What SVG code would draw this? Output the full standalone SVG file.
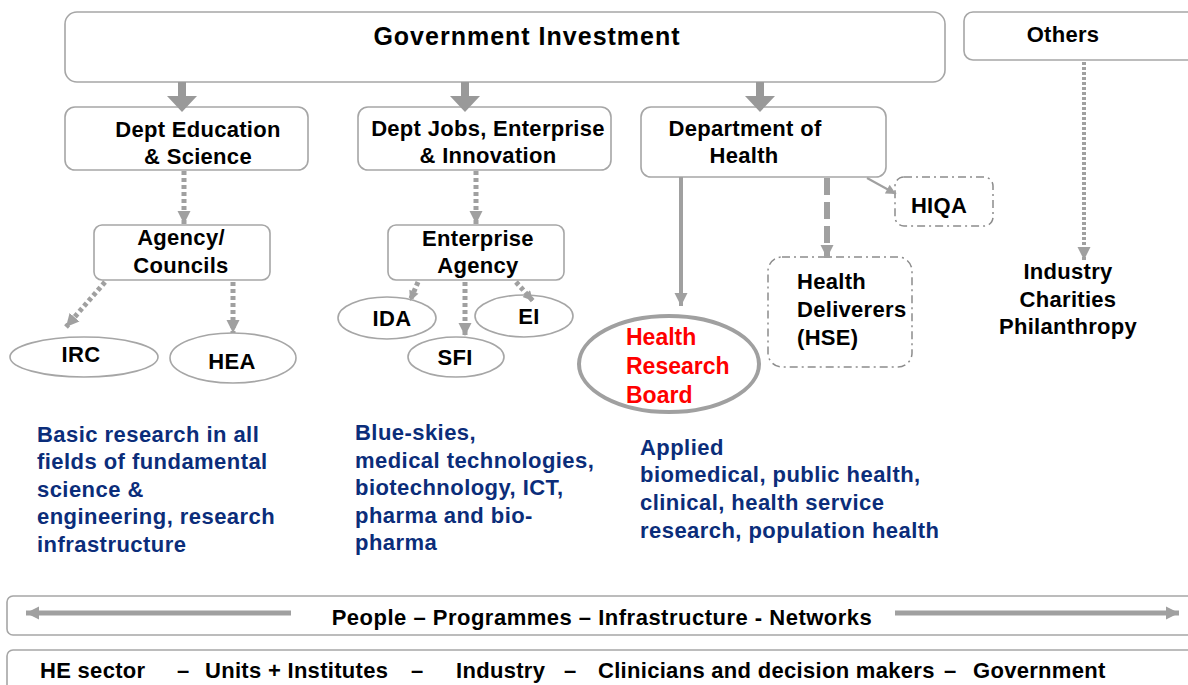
<svg xmlns="http://www.w3.org/2000/svg" width="1188" height="685" viewBox="0 0 1188 685">
<style>
.box{fill:#fff;stroke:#a6a6a6;stroke-width:1.6}
.ell{fill:#fff;stroke:#a6a6a6;stroke-width:1.6}
.dd{fill:#fff;stroke:#8c8c8c;stroke-width:1.5;stroke-dasharray:8 4 2 4}
.t{font-family:"Liberation Sans",Arial,sans-serif;font-weight:bold;font-size:22px;fill:#000;letter-spacing:0.3px}
.c{text-anchor:middle}
.blue{font-family:"Liberation Sans",Arial,sans-serif;font-weight:bold;font-size:22px;fill:#0b2d7a;letter-spacing:0.45px}
.red{font-family:"Liberation Sans",Arial,sans-serif;font-weight:bold;font-size:23px;fill:#ff0000}
.dot{fill:none;stroke:#a0a0a0;stroke-width:5;stroke-dasharray:4 3}
.dot2{fill:none;stroke:#a0a0a0;stroke-width:4;stroke-dasharray:3 2}
.solid{fill:none;stroke:#a0a0a0;stroke-width:4}
.dash{fill:none;stroke:#a0a0a0;stroke-width:6;stroke-dasharray:17 7}
.thin{fill:none;stroke:#a0a0a0;stroke-width:2}
.big{fill:#999}
</style>
<defs>
<marker id="ah" viewBox="0 0 10 10" refX="10" refY="5" markerUnits="userSpaceOnUse" markerWidth="13" markerHeight="14" orient="auto"><path d="M0,0 L10,5 L0,10 z" fill="#a0a0a0"/></marker>
<marker id="ahs" viewBox="0 0 10 10" refX="10" refY="5" markerUnits="userSpaceOnUse" markerWidth="11" markerHeight="10" orient="auto"><path d="M0,0 L10,5 L0,10 z" fill="#a0a0a0"/></marker>
</defs>

<g id="government-investment">
<rect class="box" x="65" y="12" width="880" height="70" rx="12"/>
<text class="t c" x="527" y="45" style="font-size:25px;letter-spacing:1px">Government Investment</text>
</g>
<g id="others">
<rect class="box" x="964" y="12" width="240" height="48" rx="9"/>
<text class="t c" x="1063" y="42">Others</text>
</g>
<g id="dept-education">
<rect class="box" x="65" y="107" width="243" height="63" rx="10"/>
<text class="t c" x="198" y="137">Dept Education</text>
<text class="t c" x="198" y="164">&amp; Science</text>
</g>
<g id="dept-jobs">
<rect class="box" x="358" y="107" width="253" height="63" rx="10"/>
<text class="t c" x="488" y="136">Dept Jobs, Enterprise</text>
<text class="t c" x="488" y="163">&amp; Innovation</text>
</g>
<g id="dept-health">
<rect class="box" x="641" y="107" width="245" height="70" rx="10"/>
<text class="t c" x="745" y="136">Department of</text>
<text class="t c" x="744" y="163">Health</text>
</g>
<g id="agency-councils">
<rect class="box" x="94" y="225" width="176" height="55" rx="8"/>
<text class="t c" x="181" y="245">Agency/</text>
<text class="t c" x="181" y="273">Councils</text>
</g>
<g id="enterprise-agency">
<rect class="box" x="388" y="225" width="176" height="55" rx="8"/>
<text class="t c" x="478" y="246">Enterprise</text>
<text class="t c" x="478" y="273">Agency</text>
</g>
<g id="irc">
<ellipse class="ell" cx="84" cy="357" rx="74" ry="20"/>
<text class="t c" x="81" y="362">IRC</text>
</g>
<g id="hea">
<ellipse class="ell" cx="233" cy="358" rx="63" ry="25"/>
<text class="t c" x="232" y="369">HEA</text>
</g>
<g id="ida">
<ellipse class="ell" cx="387" cy="318" rx="49" ry="21"/>
<text class="t c" x="392" y="326">IDA</text>
</g>
<g id="ei">
<ellipse class="ell" cx="524" cy="316" rx="49" ry="21"/>
<text class="t c" x="529" y="324">EI</text>
</g>
<g id="sfi">
<ellipse class="ell" cx="456" cy="357" rx="48" ry="20"/>
<text class="t c" x="455" y="365">SFI</text>
</g>
<g id="hrb">
<ellipse cx="669" cy="364" rx="90" ry="48" fill="#fff" stroke="#a0a0a0" stroke-width="4"/>
<text class="red" x="626" y="345">Health</text>
<text class="red" x="626" y="374">Research</text>
<text class="red" x="626" y="403">Board</text>
</g>
<g id="hiqa">
<rect class="dd" x="895" y="177" width="98" height="49" rx="9"/>
<text class="t c" x="939" y="213">HIQA</text>
</g>
<g id="hse">
<rect class="dd" x="768" y="257" width="144" height="110" rx="14"/>
<text class="t" x="797" y="289">Health</text>
<text class="t" x="797" y="317">Deliverers</text>
<text class="t" x="797" y="345">(HSE)</text>
</g>
<g id="industry">
<text class="t c" x="1068" y="279">Industry</text>
<text class="t c" x="1068" y="307">Charities</text>
<text class="t c" x="1068" y="334">Philanthropy</text>
</g>
<g id="basic-research">
<text class="blue" x="37" y="442">Basic research in all</text>
<text class="blue" x="37" y="469">fields of fundamental</text>
<text class="blue" x="37" y="497">science &amp;</text>
<text class="blue" x="37" y="524">engineering, research</text>
<text class="blue" x="37" y="552">infrastructure</text>
</g>
<g id="blue-skies">
<text class="blue" x="355" y="440">Blue-skies,</text>
<text class="blue" x="355" y="468">medical technologies,</text>
<text class="blue" x="355" y="495">biotechnology, ICT,</text>
<text class="blue" x="355" y="523">pharma and bio-</text>
<text class="blue" x="355" y="550">pharma</text>
</g>
<g id="applied">
<text class="blue" x="640" y="455">Applied</text>
<text class="blue" x="640" y="482">biomedical, public health,</text>
<text class="blue" x="640" y="510">clinical, health service</text>
<text class="blue" x="640" y="538">research, population health</text>
</g>
<g id="people-bar">
<rect class="box" x="7" y="596" width="1200" height="39" rx="6"/>
<text class="t c" x="602" y="625" style="letter-spacing:0.5px">People – Programmes – Infrastructure - Networks</text>
</g>
<g id="sectors-bar">
<rect class="box" x="7" y="650" width="1200" height="50" rx="6"/>
<text class="t" y="678"><tspan x="40">HE sector</tspan><tspan x="177">–</tspan><tspan x="205">Units + Institutes</tspan><tspan x="411">–</tspan><tspan x="456">Industry</tspan><tspan x="564">–</tspan><tspan x="598">Clinicians and decision makers</tspan><tspan x="944">–</tspan><tspan x="973">Government</tspan></text>
</g>

<g id="connectors">
<path class="big" d="M178,82 h8 v14 h11 l-15,16 l-15,-16 h11 z"/>
<path class="big" d="M461,82 h8 v14 h11 l-15,16 l-15,-16 h11 z"/>
<path class="big" d="M756,82 h8 v14 h11 l-15,16 l-15,-16 h11 z"/>
<line class="dot" x1="184" y1="171" x2="184" y2="224" marker-end="url(#ah)"/>
<line class="dot" x1="476" y1="171" x2="476" y2="224" marker-end="url(#ah)"/>
<line class="dot" x1="105" y1="282" x2="66" y2="327" marker-end="url(#ah)"/>
<line class="dot" x1="233" y1="282" x2="233" y2="333" marker-end="url(#ah)"/>
<line class="dot" x1="418" y1="282" x2="410" y2="301" marker-end="url(#ahs)"/>
<line class="dot" x1="465" y1="282" x2="465" y2="336" marker-end="url(#ah)"/>
<line class="dot" x1="516" y1="282" x2="533" y2="301" marker-end="url(#ahs)"/>
<line class="dot2" x1="1084" y1="62" x2="1084" y2="260" marker-end="url(#ah)"/>
<line class="solid" x1="681" y1="177" x2="681" y2="306" marker-end="url(#ah)"/>
<line class="dash" x1="827" y1="178" x2="827" y2="258" marker-end="url(#ah)"/>
<line class="thin" x1="867" y1="178" x2="896" y2="194" marker-end="url(#ahs)"/>
<line x1="291" y1="613" x2="26" y2="613" stroke="#a0a0a0" stroke-width="5" marker-end="url(#ah)"/>
<line x1="895" y1="613" x2="1179" y2="613" stroke="#a0a0a0" stroke-width="5" marker-end="url(#ah)"/>
</g>
</svg>
